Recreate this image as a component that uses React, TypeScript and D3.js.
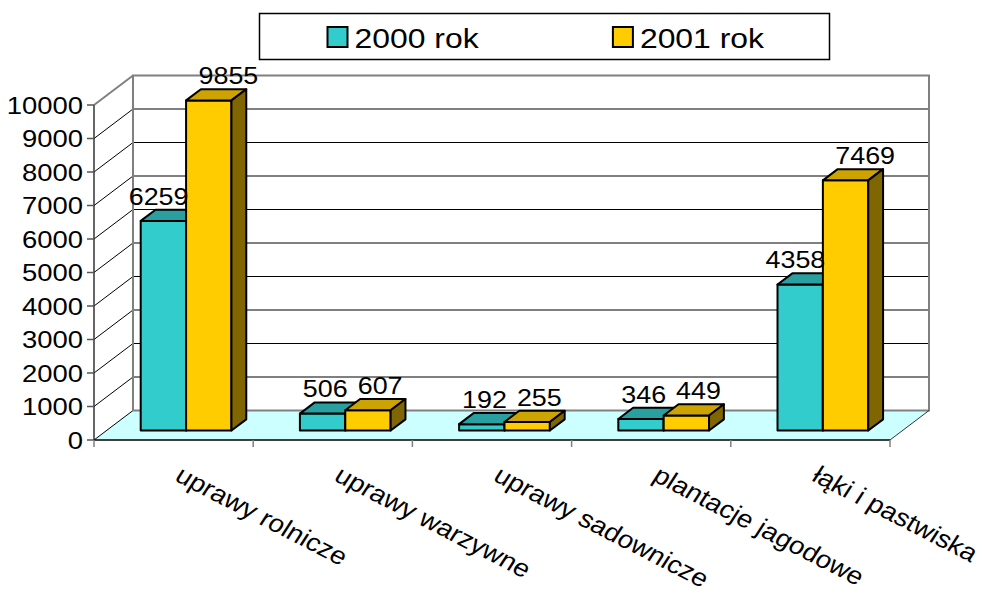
import React, { useEffect, useRef } from "react";
import * as d3 from "d3";

const categories = [
  "uprawy rolnicze",
  "uprawy warzywne",
  "uprawy sadownicze",
  "plantacje jagodowe",
  "łąki i pastwiska",
];
const seriesNames = ["2000 rok", "2001 rok"];
const values2000 = [6259, 506, 192, 346, 4358];
const values2001 = [9855, 607, 255, 449, 7469];
const yTickValues = [0, 1000, 2000, 3000, 4000, 5000, 6000, 7000, 8000, 9000, 10000];

// front, top and side shades for each series
const faceColors = [
  { front: "#33CCCC", top: "#299F9F", side: "#1A6666" },
  { front: "#FFCC00", top: "#CCA300", side: "#806600" },
];

const FONT = "'Liberation Sans', Arial, sans-serif";

export default function App() {
  const svgRef = useRef<SVGSVGElement>(null);

  useEffect(() => {
    const width = 982;
    const height = 599;
    const plot = { left: 94, right: 890, bottom: 440, top: 105 };
    const depth = { x: 39, y: 29.5 };
    const barZ = [0.32, 0.7]; // bar front / back depth fraction
    const sx = 1.12; // horizontal stretch of the glyphs

    const svg = d3
      .select(svgRef.current)
      .attr("width", width)
      .attr("height", height);
    svg.selectAll("*").remove();

    const y = d3.scaleLinear().domain([0, 10000]).range([plot.bottom, plot.top]);
    const x = d3
      .scaleBand<string>()
      .domain(categories)
      .range([plot.left, plot.right])
      .paddingInner(0.43)
      .paddingOuter(0.215);
    const xSeries = d3
      .scaleBand<number>()
      .domain([0, 1])
      .range([0, x.bandwidth()]);

    const proj = (px: number, v: number, z: number): [number, number] => [
      px + z * depth.x,
      y(v) - z * depth.y,
    ];
    const poly = (pts: [number, number][]) =>
      pts.map((p) => p.join(",")).join(" ");

    // Floor
    svg
      .append("polygon")
      .attr(
        "points",
        poly([
          proj(plot.left, 0, 0),
          proj(plot.right, 0, 0),
          proj(plot.right, 0, 1),
          proj(plot.left, 0, 1),
        ]),
      )
      .attr("fill", "#CCFFFF");

    // Back wall gridlines and side wall diagonals
    yTickValues.forEach((t) => {
      const [fx, fy] = proj(plot.left, t, 0);
      const [bx, by] = proj(plot.left, t, 1);
      const [ex] = proj(plot.right, t, 1);
      const edge = t === 10000;
      svg
        .append("line")
        .attr("x1", fx)
        .attr("y1", fy)
        .attr("x2", bx)
        .attr("y2", by)
        .attr("stroke", edge ? "#808080" : "#000")
        .attr("stroke-width", edge ? 2 : 1);
      if (t > 0 && t < 10000) {
        svg
          .append("line")
          .attr("x1", bx)
          .attr("y1", by)
          .attr("x2", ex)
          .attr("y2", by)
          .attr("stroke", "#000")
          .attr("stroke-width", 1);
      }
    });

    // Back wall frame
    const [wl, wt] = proj(plot.left, 10000, 1);
    const [wr, wb] = proj(plot.right, 0, 1);
    svg
      .append("rect")
      .attr("x", wl)
      .attr("y", wt)
      .attr("width", wr - wl)
      .attr("height", wb - wt)
      .attr("fill", "none")
      .attr("stroke", "#808080")
      .attr("stroke-width", 2);

    // Floor right edge
    const [frx, fry] = proj(plot.right, 0, 0);
    svg
      .append("line")
      .attr("x1", frx)
      .attr("y1", fry)
      .attr("x2", wr)
      .attr("y2", wb)
      .attr("stroke", "#333")
      .attr("stroke-width", 1);

    // Value axis
    svg
      .append("line")
      .attr("x1", plot.left)
      .attr("x2", plot.left)
      .attr("y1", y(10000))
      .attr("y2", y(0))
      .attr("stroke", "#333")
      .attr("stroke-width", 1.5);
    yTickValues.forEach((t) => {
      svg
        .append("line")
        .attr("x1", plot.left - 7)
        .attr("x2", plot.left)
        .attr("y1", y(t))
        .attr("y2", y(t))
        .attr("stroke", "#555")
        .attr("stroke-width", 1.5);
      svg
        .append("text")
        .attr("transform", `translate(${plot.left - 11}, ${y(t) + 8.6}) scale(${sx},1)`)
        .attr("text-anchor", "end")
        .style("font-family", FONT)
        .style("font-size", "24.5px")
        .attr("fill", "#000")
        .text(t);
    });

    // Category axis
    svg
      .append("line")
      .attr("x1", plot.left)
      .attr("x2", plot.right)
      .attr("y1", y(0))
      .attr("y2", y(0))
      .attr("stroke", "#000")
      .attr("stroke-width", 1.5);
    const step = x.step();
    d3.range(categories.length + 1).forEach((i) => {
      const tx = plot.left + i * step;
      svg
        .append("line")
        .attr("x1", tx)
        .attr("x2", tx)
        .attr("y1", y(0))
        .attr("y2", y(0) + 7)
        .attr("stroke", "#808080")
        .attr("stroke-width", 1.5);
    });
    categories.forEach((c) => {
      const cx = (x(c) as number) + x.bandwidth() / 2;
      svg
        .append("text")
        .attr("transform", `translate(${cx}, ${y(0) + 40}) scale(${sx},1) rotate(30)`)
        .attr("text-anchor", "start")
        .style("font-family", FONT)
        .style("font-size", "24.8px")
        .attr("fill", "#000")
        .text(c);
    });

    // Bars
    const allValues = [values2000, values2001];
    const labelFont = 24;
    categories.forEach((c, ci) => {
      const labels: { x: number; y: number; text: string; w: number }[] = [];
      allValues.forEach((vals, si) => {
        const v = vals[ci];
        const xa = (x(c) as number) + (xSeries(si) as number);
        const xb = xa + xSeries.bandwidth();
        const col = faceColors[si];
        const g = svg.append("g").attr("stroke", "#000").attr("stroke-width", 2).attr("stroke-linejoin", "round");
        g.append("polygon")
          .attr("points", poly([proj(xa, 0, barZ[0]), proj(xb, 0, barZ[0]), proj(xb, v, barZ[0]), proj(xa, v, barZ[0])]))
          .attr("fill", col.front);
        g.append("polygon")
          .attr("points", poly([proj(xa, v, barZ[0]), proj(xb, v, barZ[0]), proj(xb, v, barZ[1]), proj(xa, v, barZ[1])]))
          .attr("fill", col.top);
        g.append("polygon")
          .attr("points", poly([proj(xb, 0, barZ[0]), proj(xb, 0, barZ[1]), proj(xb, v, barZ[1]), proj(xb, v, barZ[0])]))
          .attr("fill", col.side);

        const mid = (barZ[0] + barZ[1]) / 2;
        const [lx] = proj((xa + xb) / 2, v, mid);
        const [, ly] = proj(xa, v, barZ[1]);
        const text = String(v);
        labels.push({ x: lx, y: ly - 5, text, w: text.length * 0.556 * labelFont * sx });
      });

      // push overlapping labels apart
      const need = (labels[0].w + labels[1].w) / 2 + 10;
      const dist = labels[1].x - labels[0].x;
      if (dist < need) {
        const m = (labels[0].x + labels[1].x) / 2;
        labels[0].x = m - need / 2;
        labels[1].x = m + need / 2;
      }
      labels.forEach((l) => {
        svg
          .append("text")
          .attr("transform", `translate(${l.x}, ${l.y}) scale(${sx},1)`)
          .attr("text-anchor", "middle")
          .style("font-family", FONT)
          .style("font-size", `${labelFont}px`)
          .attr("fill", "#000")
          .text(l.text);
      });
    });

    // Legend
    const legend = { x: 259.5, y: 13.5, w: 570, h: 46 };
    const legendG = svg.append("g");
    legendG
      .append("rect")
      .attr("x", legend.x)
      .attr("y", legend.y)
      .attr("width", legend.w)
      .attr("height", legend.h)
      .attr("fill", "#fff")
      .attr("stroke", "#000")
      .attr("stroke-width", 1.5);
    seriesNames.forEach((s, i) => {
      const ix = legend.x + 68 + i * 285.4;
      legendG
        .append("rect")
        .attr("x", ix)
        .attr("y", legend.y + 13.5)
        .attr("width", 20)
        .attr("height", 20)
        .attr("fill", faceColors[i].front)
        .attr("stroke", "#000")
        .attr("stroke-width", 2);
      legendG
        .append("text")
        .attr("transform", `translate(${ix + 27}, ${legend.y + 34}) scale(1.16,1)`)
        .style("font-family", FONT)
        .style("font-size", "27.5px")
        .attr("fill", "#000")
        .text(s);
    });
  }, []);

  return (
    <svg
      ref={svgRef}
      style={{ position: "absolute", left: 0, top: 0, background: "#fff" }}
    />
  );
}
